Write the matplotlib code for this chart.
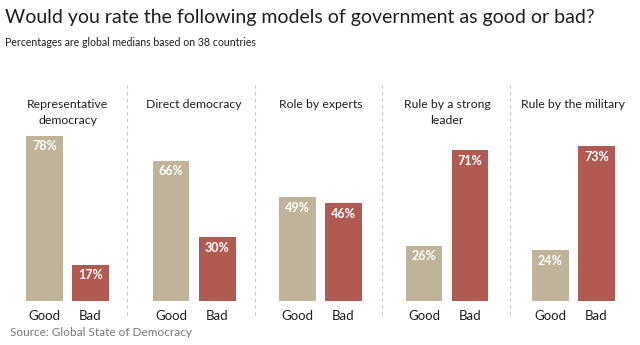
import numpy as np
import matplotlib
matplotlib.use("Agg")
import matplotlib.pyplot as plt

plt.rcParams['font.family'] = ['Lato', 'DejaVu Sans']

categories = ["Representative\ndemocracy", "Direct democracy", "Role by experts",
              "Rule by a strong\nleader", "Rule by the military"]
good = [78, 66, 49, 26, 24]
bad = [17, 30, 46, 71, 73]
bar_labels = ["Good", "Bad"]

good_color = "#bfb399"
bad_color = "#b05a52"
text_color = "#1e1e1e"

fig = plt.figure(figsize=(6.4, 3.45), dpi=100)
ax = fig.add_axes([0, 44 / 345, 1, 217 / 345])

x = np.arange(len(categories))
off = 0.182
w = 0.292
ax.bar(x - off, good, width=w, color=good_color)
ax.bar(x + off, bad, width=w, color=bad_color)
ax.set_xlim(-0.534, 4.526)
ax.set_ylim(0, 217 / 2.12)
ax.axis("off")

# value labels inside the top of each bar
for xi, g, b in zip(x, good, bad):
    for pos, v in ((xi - off, g), (xi + off, b)):
        ax.annotate(f"{v}%", (pos, v), xytext=(0, -7.5), textcoords="offset points",
                    ha="center", va="center", color="white", fontsize=9,
                    fontweight="bold")
    for pos, lab in ((xi - off, bar_labels[0]), (xi + off, bar_labels[1])):
        ax.annotate(lab, (pos, 0), xytext=(0, -11), textcoords="offset points",
                    ha="center", va="center", color=text_color, fontsize=9.5)

# category headers
for xi, cat in zip(x, categories):
    ax.text(xi, 217 / 2.12 - 15 / 2.12, cat, ha="center", va="top",
            color=text_color, fontsize=8.8, linespacing=1.6)

# dashed dividers between panels
for i in range(4):
    ax.axvline(i + 0.47 + 0.01 * i, ymin=-14 / 217, ymax=1.0, color="#c8c8c8",
               lw=0.8, ls=(0, (3, 3)), clip_on=False)

fig.text(5 / 640, 1 - 18 / 345, "Would you rate the following models of government as good or bad?",
         fontsize=14, color=text_color, va="center", ha="left")
fig.text(5 / 640, 1 - 43 / 345, "Percentages are global medians based on 38 countries",
         fontsize=7.6, color=text_color, va="center", ha="left")
fig.text(10 / 640, 1 - 333 / 345, "Source: Global State of Democracy",
         fontsize=8.5, color="#777777", va="center", ha="left")

fig.savefig("out.png", dpi=100, facecolor="white")
